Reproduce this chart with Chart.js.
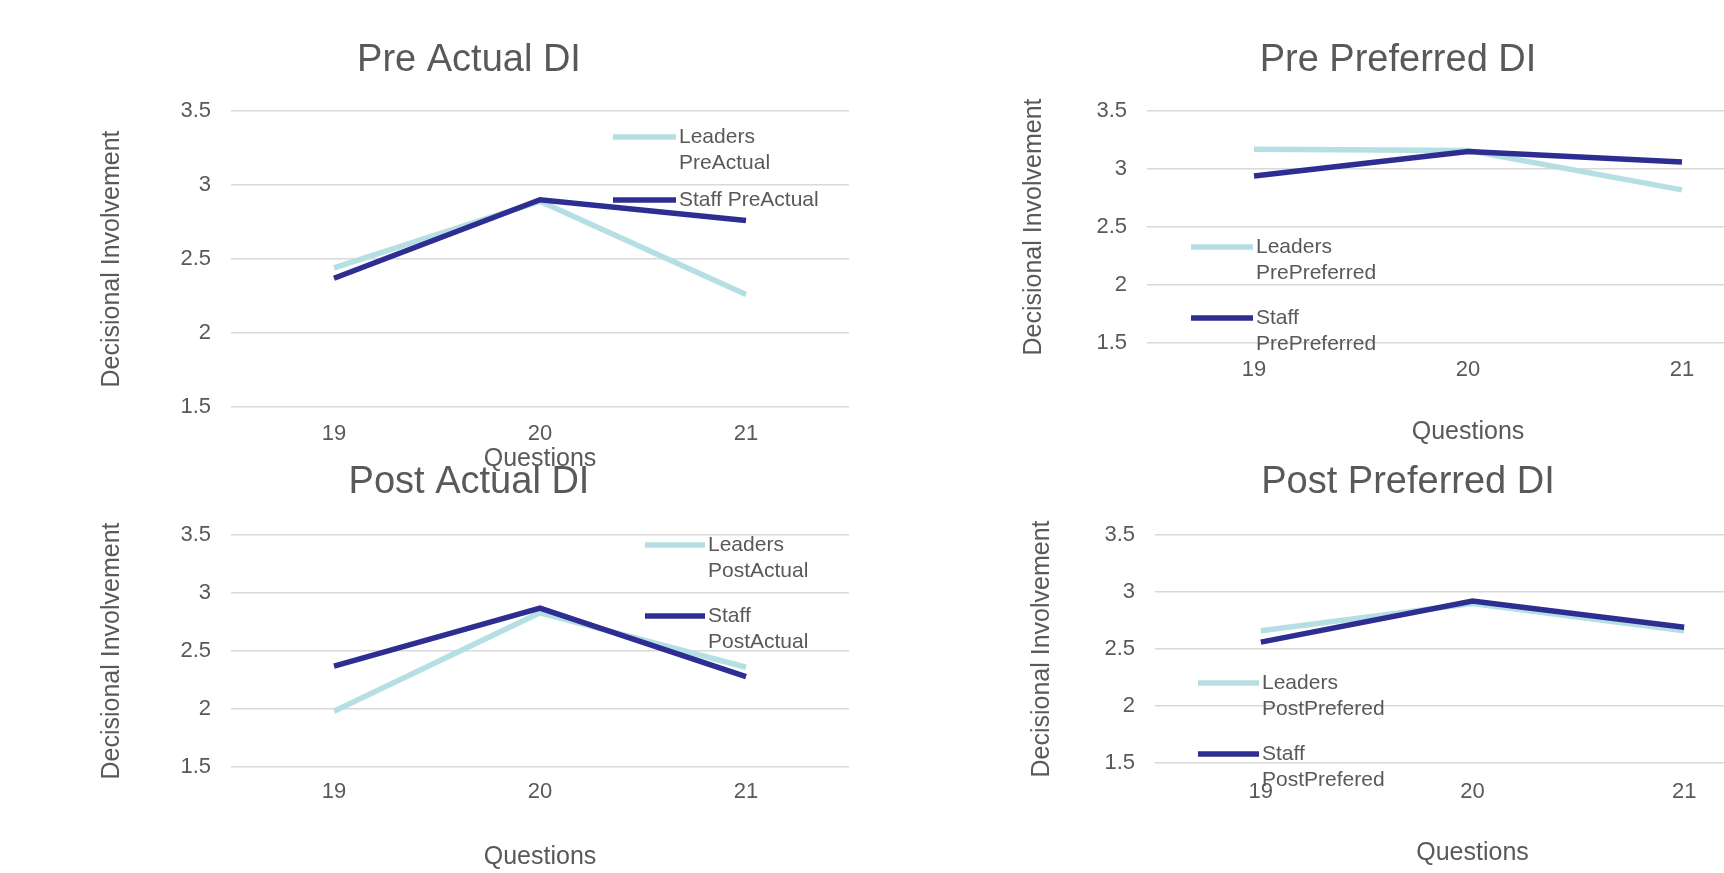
<!DOCTYPE html>
<html>
<head>
<meta charset="utf-8">
<title>Decisional Involvement</title>
<script src="https://cdn.jsdelivr.net/npm/chart.js@4.4.1/dist/chart.umd.min.js"></script>
<style>
  html, body { margin: 0; padding: 0; background: #fff; overflow: hidden; }
  .page { position: relative; width: 1724px; height: 873px; overflow: hidden; }
  /* every panel gets a full page canvas, stacked; layout padding places it */
  .page canvas { position: absolute; top: 0; left: 0; }
</style>
</head>
<body>
<div class="page">
  <canvas id="pre-actual" width="1800" height="873"></canvas>
  <canvas id="pre-preferred" width="1800" height="873"></canvas>
  <canvas id="post-actual" width="1800" height="873"></canvas>
  <canvas id="post-preferred" width="1800" height="873"></canvas>
</div>
<script>
// ---- data ----
var questions = ['19', '20', '21'];

var preActualLeaders = [2.44, 2.89, 2.26];
var preActualStaff = [2.37, 2.90, 2.76];

var prePreferredLeaders = [3.17, 3.16, 2.82];
var prePreferredStaff = [2.94, 3.15, 3.06];

var postActualLeaders = [1.98, 2.83, 2.36];
var postActualStaff = [2.37, 2.87, 2.28];

var postPreferredLeaders = [2.66, 2.90, 2.66];
var postPreferredStaff = [2.56, 2.92, 2.69];

var yMin = 1.5, yMax = 3.5, yStep = 0.5;

// ---- look ----
var FONT = "'Liberation Sans', Arial, sans-serif";
var GREY = '#595959';
var GRID = '#d9d9d9';
var LEADER_COLOR = '#b5dfe2';
var STAFF_COLOR = '#2e2e92';
var TITLE_SIZE = 38;
var AXIS_SIZE = 25;
var TICK_SIZE = 22;
var LEGEND_SIZE = 21;

// legend drawn where excel put it, on top of the plot
var sideLegend = {
    id: 'sideLegend',
    afterDraw: function (chart, args, opts) {
        var ctx = chart.ctx;
        ctx.save();
        ctx.font = LEGEND_SIZE + 'px ' + FONT;
        ctx.textBaseline = 'middle';
        ctx.textAlign = 'left';
        ctx.fillStyle = GREY;
        chart.data.datasets.forEach(function (ds, i) {
            var y = opts.rows[i];
            ctx.strokeStyle = ds.borderColor;
            ctx.lineWidth = ds.borderWidth;
            ctx.beginPath();
            ctx.moveTo(opts.x, y);
            ctx.lineTo(opts.x + opts.swatch, y);
            ctx.stroke();
            ds.label.split('\n').forEach(function (line, j) {
                ctx.fillText(line, opts.x + opts.swatch + 3, y + j * 26);
            });
        });
        ctx.restore();
    }
};

function panel(id, spec) {
    var W = 1800, H = 873;
    var titleLh = TITLE_SIZE * 1.2;
    var axisLh = AXIS_SIZE * 1.2;
    var tickLh = TICK_SIZE * 1.2;
    var a = spec.area;

    var pl = 2 * spec.titleX - a.r;
    var pr = W - a.r;
    var pt = spec.titleY - titleLh / 2 - 10;
    var pb = H - spec.xTitleY - axisLh / 2;

    return new Chart(document.getElementById(id), {
        type: 'line',
        data: {
            labels: questions,
            datasets: [
                { label: spec.labels[0], data: spec.leaders, borderColor: LEADER_COLOR, borderWidth: 5.5, pointRadius: 0, order: 1 },
                { label: spec.labels[1], data: spec.staff, borderColor: STAFF_COLOR, borderWidth: 5.5, pointRadius: 0, order: 0 }
            ]
        },
        options: {
            responsive: false,
            animation: false,
            events: [],
            layout: { padding: { left: pl, right: pr, top: pt, bottom: pb } },
            plugins: {
                legend: { display: false },
                tooltip: { enabled: false },
                title: {
                    display: true,
                    text: spec.title,
                    color: GREY,
                    font: { family: FONT, size: TITLE_SIZE, weight: 'normal', lineHeight: 1.2 },
                    padding: { top: 10, bottom: a.t - spec.titleY - titleLh / 2 }
                },
                sideLegend: spec.legend
            },
            scales: {
                x: {
                    offset: true,
                    grid: { display: false, drawTicks: false },
                    border: { display: false },
                    ticks: {
                        color: GREY,
                        padding: spec.xTickY - a.b - tickLh / 2,
                        font: { family: FONT, size: TICK_SIZE }
                    },
                    title: {
                        display: true, text: 'Questions', color: GREY, padding: 0,
                        font: { family: FONT, size: AXIS_SIZE, lineHeight: 1.2 }
                    },
                    afterFit: function (s) { s.height = spec.xTitleY + axisLh / 2 - a.b; }
                },
                y: {
                    min: yMin,
                    max: yMax,
                    grid: { color: GRID, lineWidth: 1.5, drawTicks: false },
                    border: { display: false },
                    ticks: {
                        stepSize: yStep,
                        color: GREY,
                        padding: 20,
                        font: { family: FONT, size: TICK_SIZE },
                        callback: function (v) { return String(v); }
                    },
                    title: {
                        display: true, text: 'Decisional Involvement', color: GREY,
                        padding: { top: spec.yTitleX - pl - axisLh / 2, bottom: 0 },
                        font: { family: FONT, size: AXIS_SIZE, lineHeight: 1.2 }
                    },
                    afterFit: function (s) { s.width = a.l - pl; }
                }
            }
        },
        plugins: [sideLegend]
    });
}

panel('pre-actual', {
    title: 'Pre Actual DI',
    labels: ['Leaders\nPreActual', 'Staff PreActual'],
    leaders: preActualLeaders, staff: preActualStaff,
    area: { l: 231, r: 849, t: 111, b: 407 },
    titleX: 469, titleY: 61, yTitleX: 112, xTickY: 434, xTitleY: 459,
    legend: { x: 613, swatch: 63, rows: [137, 200] }
});

panel('pre-preferred', {
    title: 'Pre Preferred DI',
    labels: ['Leaders\nPrePreferred', 'Staff\nPrePreferred'],
    leaders: prePreferredLeaders, staff: prePreferredStaff,
    area: { l: 1147, r: 1789, t: 111, b: 343 },
    titleX: 1398, titleY: 61, yTitleX: 1034, xTickY: 370, xTitleY: 432,
    legend: { x: 1191, swatch: 62, rows: [247, 318] }
});

panel('post-actual', {
    title: 'Post Actual DI',
    labels: ['Leaders\nPostActual', 'Staff\nPostActual'],
    leaders: postActualLeaders, staff: postActualStaff,
    area: { l: 231, r: 849, t: 535, b: 767 },
    titleX: 469, titleY: 483, yTitleX: 112, xTickY: 792, xTitleY: 857,
    legend: { x: 645, swatch: 60, rows: [545, 616] }
});

panel('post-preferred', {
    title: 'Post Preferred DI',
    labels: ['Leaders\nPostPrefered', 'Staff\nPostPrefered'],
    leaders: postPreferredLeaders, staff: postPreferredStaff,
    area: { l: 1155, r: 1790, t: 535, b: 763 },
    titleX: 1408, titleY: 483, yTitleX: 1042, xTickY: 792, xTitleY: 853,
    legend: { x: 1198, swatch: 61, rows: [683, 754] }
});
</script>
</body>
</html>
